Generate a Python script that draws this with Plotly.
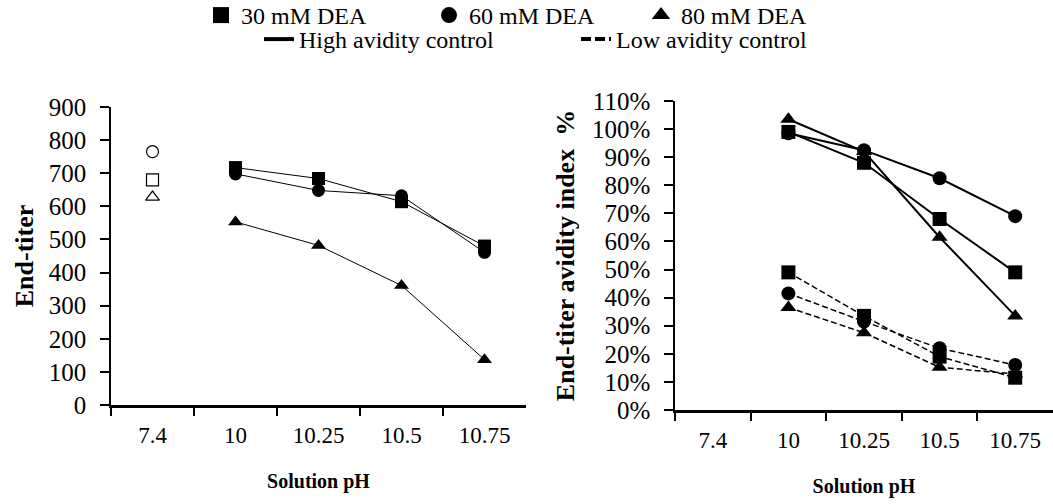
import plotly.graph_objects as go

# ---- data ----
ph_labels = ["7.4", "10", "10.25", "10.5", "10.75"]
ph_treated = ["10", "10.25", "10.5", "10.75"]

# Left panel: end-titer
untreated_titer = [765, 680, 628]          # circle (60), square (30), triangle (80) at pH 7.4
titer_30 = [717, 684, 614, 480]
titer_60 = [698, 648, 632, 461]
titer_80 = [553, 482, 361, 137]

# Right panel: end-titer avidity index (fraction)
high_30 = [0.99, 0.88, 0.68, 0.49]
high_60 = [0.985, 0.925, 0.825, 0.69]
high_80 = [1.035, 0.92, 0.615, 0.335]
low_30 = [0.49, 0.335, 0.19, 0.115]
low_60 = [0.415, 0.315, 0.22, 0.16]
low_80 = [0.365, 0.275, 0.152, 0.128]

dea_names = ["30 mM DEA", "60 mM DEA", "80 mM DEA"]
control_names = ["High avidity control", "Low avidity control"]

FONT = "Liberation Serif"
BLACK = "black"
W, H = 1053, 504

fig = go.Figure()

# left panel traces
fig.add_trace(go.Scatter(
    x=["7.4"] * 3, y=untreated_titer, mode="markers", showlegend=False,
    marker=dict(symbol=["circle-open", "square-open", "triangle-up-open"], size=12,
                color=BLACK, line=dict(width=1.2, color=BLACK)),
    xaxis="x", yaxis="y"))
for vals, sym in [(titer_30, "square"), (titer_60, "circle"), (titer_80, "triangle-up")]:
    fig.add_trace(go.Scatter(
        x=ph_treated, y=vals, mode="lines+markers", showlegend=False,
        line=dict(color=BLACK, width=1),
        marker=dict(symbol=sym, size=13, color=BLACK),
        xaxis="x", yaxis="y"))

# right panel traces
for vals, sym in [(high_30, "square"), (high_60, "circle"), (high_80, "triangle-up")]:
    fig.add_trace(go.Scatter(
        x=ph_treated, y=vals, mode="lines+markers", showlegend=False,
        line=dict(color=BLACK, width=2),
        marker=dict(symbol=sym, size=14, color=BLACK),
        xaxis="x2", yaxis="y2"))
for vals, sym in [(low_30, "square"), (low_60, "circle"), (low_80, "triangle-up")]:
    fig.add_trace(go.Scatter(
        x=ph_treated, y=vals, mode="lines+markers", showlegend=False,
        line=dict(color=BLACK, width=1.5, dash="6px,3px"),
        marker=dict(symbol=sym, size=14, color=BLACK),
        xaxis="x2", yaxis="y2"))

# legend entries, each in its own legend so it can be placed like the reference
leg_font = dict(family=FONT, size=24, color=BLACK)
dea_x = [201, 429, 641]
for i, (name, sym) in enumerate(zip(dea_names, ["square", "circle", "triangle-up"])):
    lid = "legend" if i == 0 else f"legend{i + 1}"
    fig.add_trace(go.Scatter(x=[None], y=[None], mode="markers", name=name,
                             marker=dict(symbol=sym, size=16, color=BLACK),
                             legend=lid, xaxis="x", yaxis="y"))
ctrl_x = [259, 576]
for j, (name, dash) in enumerate(zip(control_names, ["solid", "10px,4px"])):
    lid = f"legend{4 + j}"
    fig.add_trace(go.Scatter(x=[None], y=[None], mode="lines", name=name,
                             line=dict(color=BLACK, width=4, dash=dash),
                             legend=lid, xaxis="x", yaxis="y"))

legends = {}
for i in range(3):
    key = "legend" if i == 0 else f"legend{i + 1}"
    legends[key] = dict(x=dea_x[i] / W, y=1 + 7 / H, xanchor="left", yanchor="top",
                        font=leg_font, bgcolor="rgba(0,0,0,0)", itemclick=False)
for j in range(2):
    legends[f"legend{4 + j}"] = dict(x=ctrl_x[j] / W, y=1 - 17 / H, xanchor="left", yanchor="top",
                                     font=leg_font, bgcolor="rgba(0,0,0,0)", itemclick=False)

xaxis_common = dict(
    type="category", categoryorder="array", categoryarray=ph_labels,
    range=[-0.5, 4.5], showline=True, linecolor=BLACK, linewidth=2.5,
    ticks="outside", tickson="boundaries", ticklen=8, tickcolor=BLACK, tickwidth=1.5,
    showgrid=False, zeroline=False, ticklabelstandoff=8,
    tickfont=dict(family=FONT, size=23, color=BLACK),
)
yaxis_common = dict(
    showline=True, linecolor=BLACK, linewidth=1.5, ticks="outside", ticklen=9,
    tickcolor=BLACK, tickwidth=1.5, showgrid=False, zeroline=False, ticklabelstandoff=9,
    tickfont=dict(family=FONT, size=25, color=BLACK),
)

fig.update_layout(
    width=W, height=H,
    margin=dict(l=0, r=0, t=0, b=0, autoexpand=False),
    paper_bgcolor="white", plot_bgcolor="white",
    font=dict(family=FONT, color=BLACK),
    xaxis=dict(xaxis_common, domain=[111 / W, 526 / W], anchor="y",
               title=dict(text="<b>Solution pH</b>", font=dict(family=FONT, size=20), standoff=27)),
    yaxis=dict(yaxis_common, domain=[1 - 405 / H, 1 - 107 / H], anchor="x", range=[0, 900],
               tickvals=[0, 100, 200, 300, 400, 500, 600, 700, 800, 900],
               title=dict(text="<b>End-titer</b>", font=dict(family=FONT, size=26), standoff=8)),
    xaxis2=dict(xaxis_common, domain=[675 / W, 1.0], anchor="y2",
                title=dict(text="<b>Solution pH</b>", font=dict(family=FONT, size=20), standoff=27)),
    yaxis2=dict(yaxis_common, domain=[1 - 410 / H, 1 - 101 / H], anchor="x2", range=[0, 1.1],
                tickvals=[i / 10 for i in range(12)], tickformat=".0%",
                title=dict(text="<b>End-titer avidity index  %</b>", font=dict(family=FONT, size=26), standoff=10)),
    **legends,
)

# remove the browser's default 8px page margin so the figure fills the window exactly
fig.write_html("out.html", config={"displayModeBar": False},
               post_script="document.body.style.margin='0';")
